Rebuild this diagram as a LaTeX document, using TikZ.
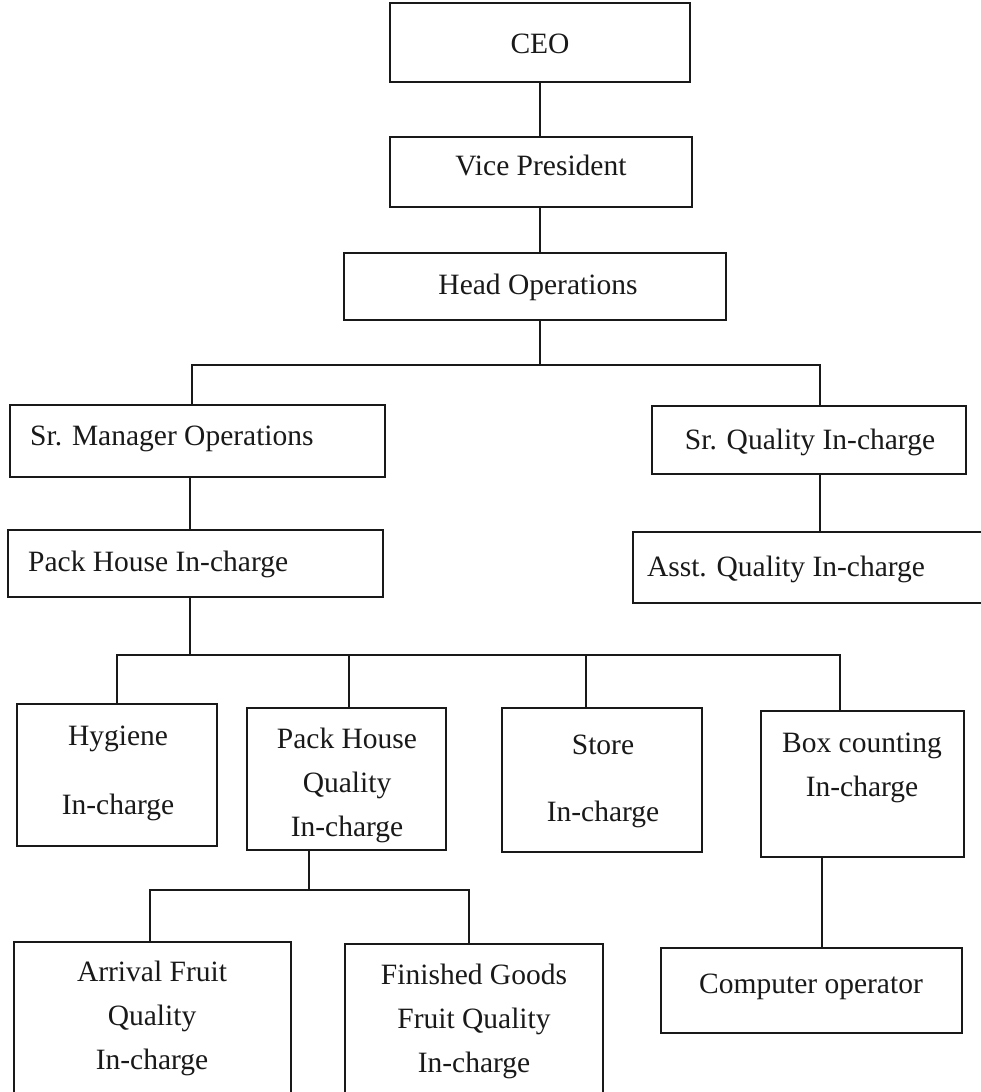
\documentclass[tikz,border=0pt]{standalone}
\usepackage{fontspec}
\setmainfont{Liberation Serif}
\begin{document}
\begin{tikzpicture}[x=1pt,y=-1pt,
  box/.style={draw=black!90, line width=2.2pt, inner sep=0pt},
  lbl/.style={inner sep=0pt, text=black!90, align=center, font=\fontsize{29.5}{44}\selectfont},
  conn/.style={draw=black!90, line width=2.2pt}]
\useasboundingbox[fill=white] (0,0) rectangle (980,1092);
% box helper: name, x1, y1, x2, y2
\newcommand\orgbox[5]{\node[box, minimum width={#4-#2}, minimum height={#5-#3}] (#1) at ({(#2+#4)/2},{(#3+#5)/2}) {};}
\orgbox{ceo}{390}{3}{690}{82}
\orgbox{vp}{390}{137}{692}{207}
\orgbox{head}{344}{253}{726}{320}
\orgbox{smo}{10}{405}{385}{477}
\orgbox{sqi}{652}{406}{966}{474}
\orgbox{phi}{8}{530}{383}{597}
\orgbox{aqi}{633}{532}{985}{603}
\orgbox{hyg}{17}{704}{217}{846}
\orgbox{phq}{247}{708}{446}{850}
\orgbox{sto}{502}{708}{702}{852}
\orgbox{bci}{761}{711}{964}{857}
\orgbox{afq}{14}{942}{291}{1100}
\orgbox{fgq}{345}{944}{603}{1100}
\orgbox{cop}{661}{948}{962}{1033}
% labels
\node[lbl] (t-ceo) at (540,44) {CEO};
\node[lbl] (t-vp) at (541,165) {Vice President};
\node[lbl] (t-head) at (538,287) {Head Operations};
\node[lbl, anchor=west] (t-smo) at (30,439) {Sr. Manager Operations};
\node[lbl] (t-sqi) at (810,442) {Sr. Quality In-charge};
\node[lbl, anchor=west] (t-phi) at (28,564) {Pack House In-charge};
\node[lbl] (t-aqi) at (786,569) {Asst. Quality In-charge};
\node[lbl] (t-hyg1) at (118,739) {Hygiene};
\node[lbl] (t-hyg2) at (118,807) {In-charge};
\node[lbl] (t-phq) at (347,785) {Pack House\\Quality\\In-charge};
\node[lbl] (t-sto1) at (603,745) {Store};
\node[lbl] (t-sto2) at (603,814) {In-charge};
\node[lbl] (t-bci) at (862,768) {Box counting\\In-charge};
\node[lbl] (t-afq) at (152,1018) {Arrival Fruit\\Quality\\In-charge};
\node[lbl] (t-fgq) at (474,1021) {Finished Goods\\Fruit Quality\\In-charge};
\node[lbl] (t-cop) at (811,987) {Computer operator};
% bus coordinates
\coordinate (a0) at (540,0);
\coordinate (b1) at (540,365);
\coordinate (b1l) at (192,365);
\coordinate (b1r) at (820,365);
\coordinate (b2) at (190,655);
\coordinate (b2a) at (117,655);
\coordinate (b2b) at (349,655);
\coordinate (b2c) at (586,655);
\coordinate (b2d) at (840,655);
\coordinate (b3) at (309,890);
\coordinate (b3a) at (150,890);
\coordinate (b3b) at (469,890);
\coordinate (c0) at (822,0);
% connectors
\draw[conn] (ceo.south -| a0) -- (vp.north -| a0);
\draw[conn] (vp.south -| a0) -- (head.north -| a0);
\draw[conn] (head.south -| b1) -- (b1);
\draw[conn] (smo.north -| b1l) -- (b1l) -- (b1r) -- (sqi.north -| b1r);
\draw[conn] (smo.south -| b2) -- (phi.north -| b2);
\draw[conn] (sqi.south -| b1r) -- (aqi.north -| b1r);
\draw[conn] (phi.south -| b2) -- (b2);
\draw[conn] (hyg.north -| b2a) -- (b2a) -- (b2d) -- (bci.north -| b2d);
\draw[conn] (b2b) -- (phq.north -| b2b);
\draw[conn] (b2c) -- (sto.north -| b2c);
\draw[conn] (phq.south -| b3) -- (b3);
\draw[conn] (afq.north -| b3a) -- (b3a) -- (b3b) -- (fgq.north -| b3b);
\draw[conn] (bci.south -| c0) -- (cop.north -| c0);
\end{tikzpicture}
\end{document}
